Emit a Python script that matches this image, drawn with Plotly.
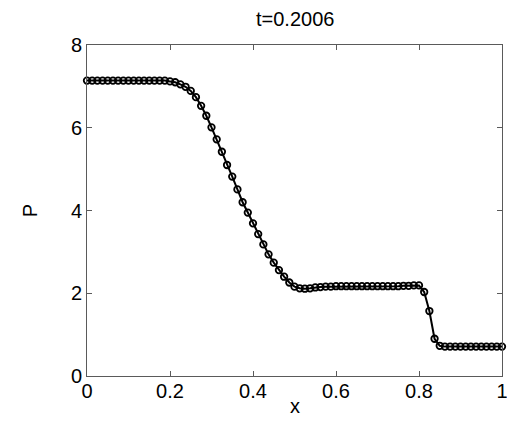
import numpy as np
import plotly.graph_objects as go

# Grid: 81 nodes on [0, 1]
x = np.linspace(0.0, 1.0, 81)

# Pressure at t = 0.2006, node by node
p_left = [7.14] * 16
p_rarefaction = [7.12, 7.10, 7.05, 6.99, 6.89, 6.74, 6.53, 6.29, 6.01, 5.72,
                 5.42, 5.10, 4.82, 4.51, 4.20, 3.95, 3.69, 3.43, 3.18, 2.94,
                 2.74, 2.56, 2.40, 2.26, 2.16]
p_middle = [2.12, 2.11, 2.12, 2.14, 2.15, 2.16, 2.16, 2.17, 2.17, 2.17,
            2.17, 2.17, 2.17, 2.17, 2.17, 2.17, 2.17, 2.17, 2.17, 2.17,
            2.18, 2.18, 2.19, 2.19]
p_shock = [2.03, 1.57, 0.90, 0.73]
p_right = [0.71] * 12
P = p_left + p_rarefaction + p_middle + p_shock + p_right

x_ticks = [0, 0.2, 0.4, 0.6, 0.8, 1]
x_ticklabels = ["0", "0.2", "0.4", "0.6", "0.8", "1"]
y_ticks = [0, 2, 4, 6, 8]

FONT = "Liberation Sans, Arial, Helvetica, sans-serif"
AXIS_COLOR = "#5a5a5a"

fig = go.Figure()
fig.add_trace(go.Scatter(
    x=x, y=P,
    mode="lines+markers",
    line=dict(color="black", width=2),
    marker=dict(symbol="circle-open", size=6.5, color="black",
                line=dict(color="black", width=1.8)),
    showlegend=False,
    cliponaxis=False,
))

axis_common = dict(
    showgrid=False, zeroline=False, automargin=False,
    showline=True, linecolor=AXIS_COLOR, linewidth=1, mirror="ticks",
    ticks="inside", ticklen=5, tickcolor=AXIS_COLOR, tickwidth=1,
    tickfont=dict(family=FONT, size=20, color="black"),
    ticklabeloverflow="allow",
)

fig.update_xaxes(range=[0, 1.00001], tickvals=x_ticks, ticktext=x_ticklabels,
                 ticklabelstandoff=-3, **axis_common)
fig.update_yaxes(range=[0, 8], tickvals=y_ticks,
                 title=dict(text="P", font=dict(family=FONT, size=20, color="black"),
                            standoff=27),
                 **axis_common)

# x-axis label, placed just below the tick labels
fig.add_annotation(text="x", x=0.5, y=0, xref="paper", yref="paper",
                   xanchor="center", yanchor="middle", yshift=-30, showarrow=False,
                   font=dict(family=FONT, size=20, color="black"))

fig.add_annotation(text="t=0.2006", x=0.5, y=1, xref="paper", yref="paper",
                   xanchor="center", yanchor="bottom", yshift=13, showarrow=False,
                   font=dict(family=FONT, size=20, color="black"))

fig.update_layout(
    width=507, height=427,
    margin=dict(l=87, r=5, t=45, b=51),
    paper_bgcolor="white", plot_bgcolor="white",
)

fig.write_html("out.html")
